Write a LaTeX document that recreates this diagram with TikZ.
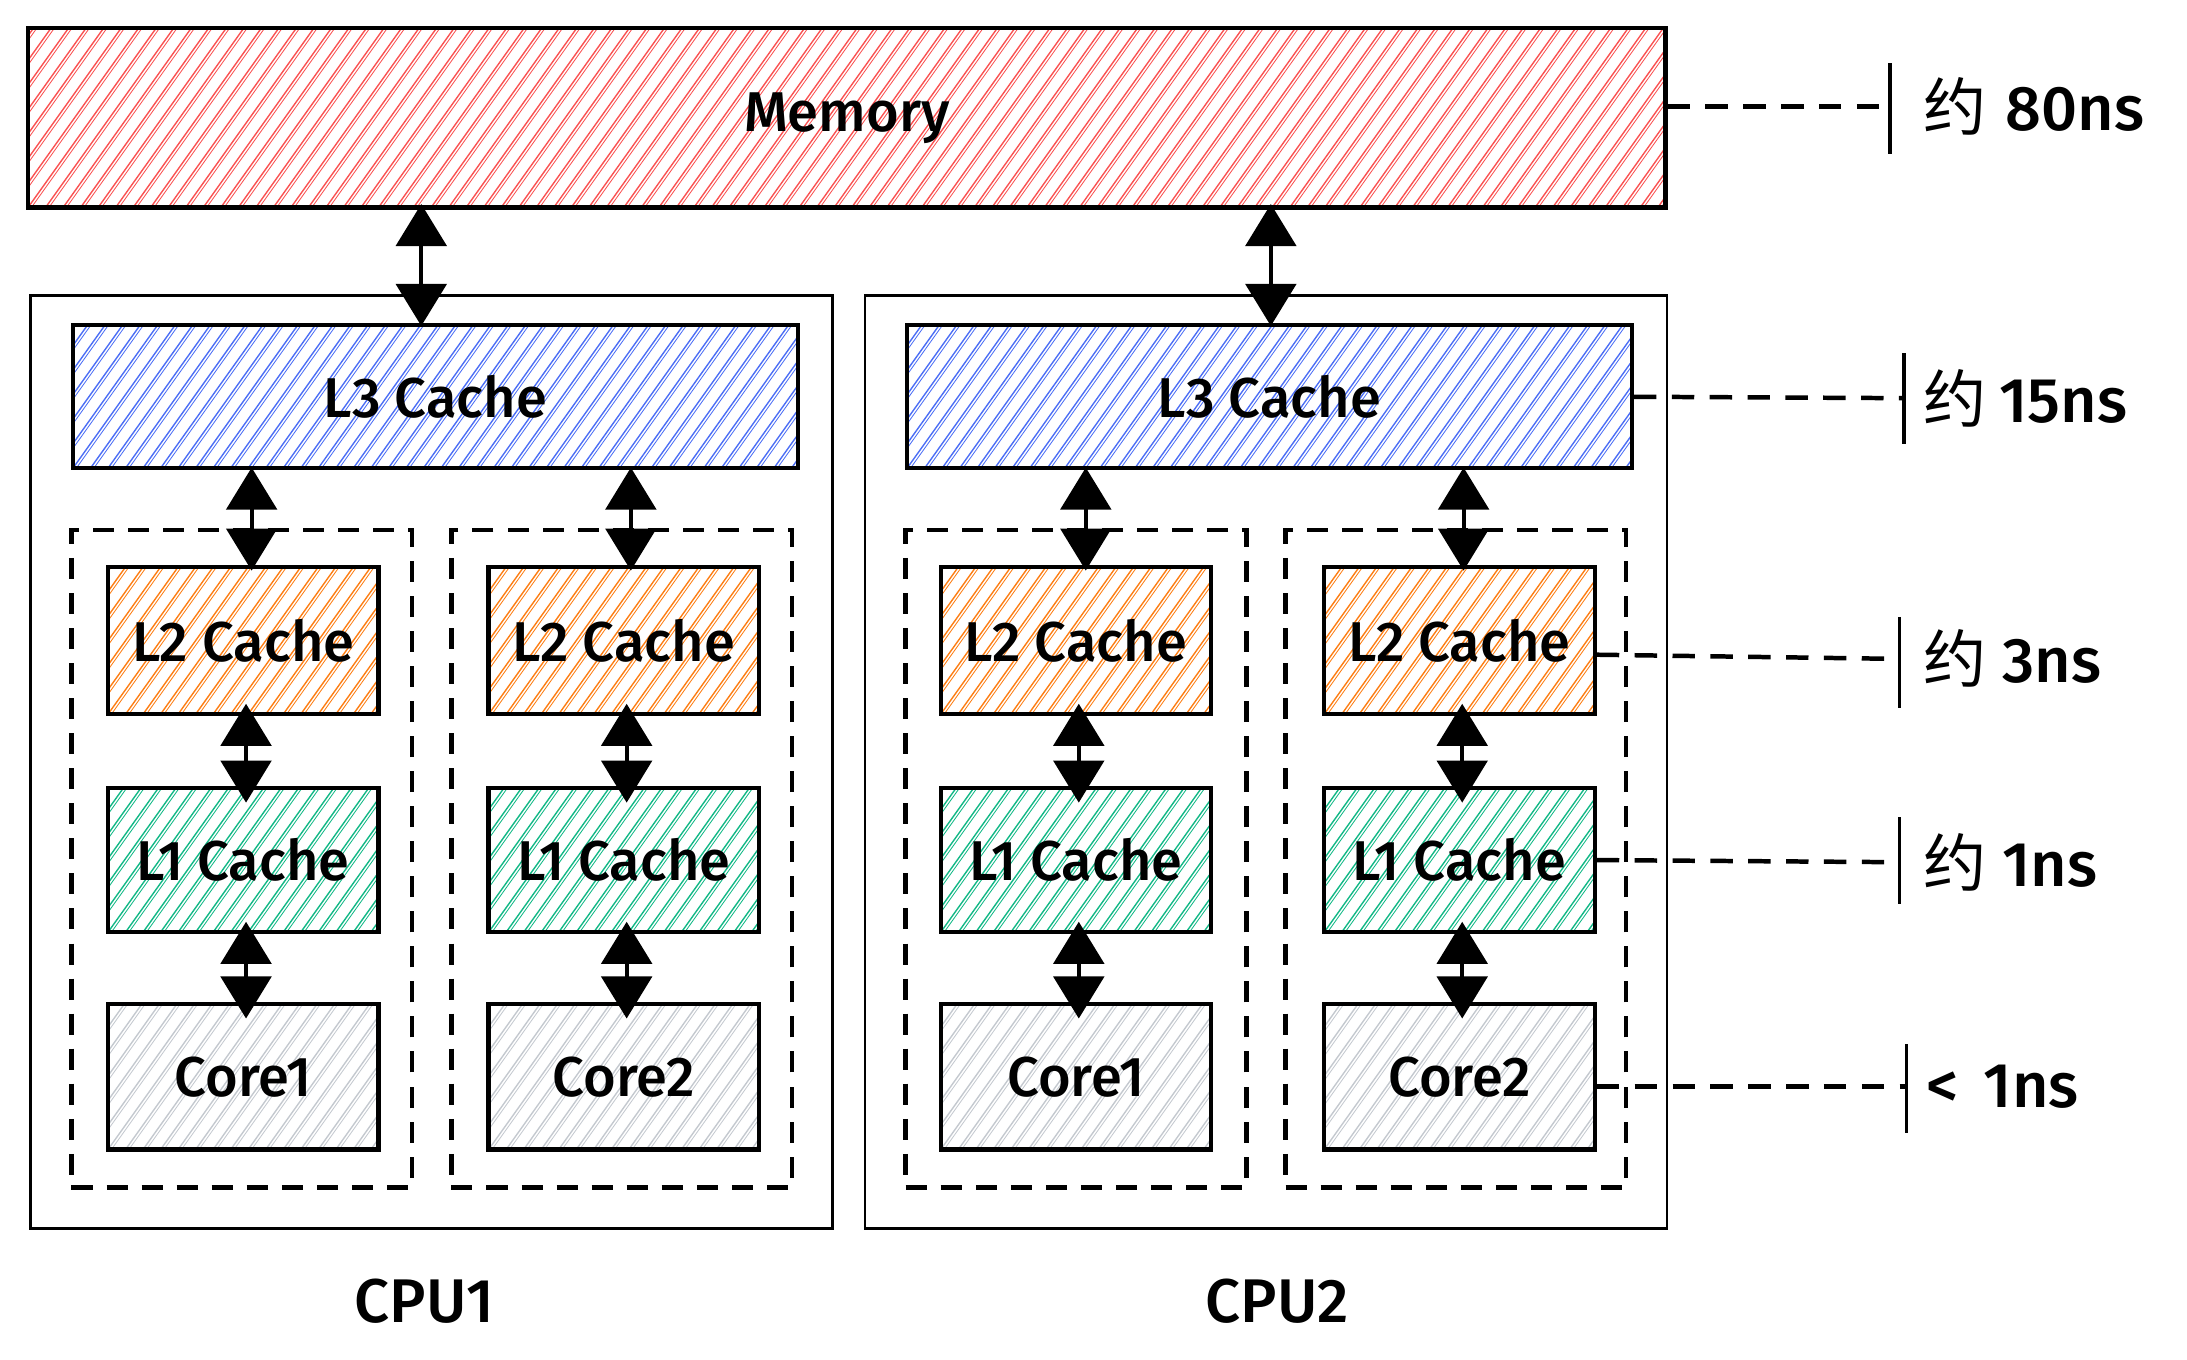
\documentclass[tikz,border=0pt]{standalone}
\usepackage{fontspec}
\setmainfont{Fira Sans Medium}
\newfontfamily\cjk{Noto Sans CJK SC}
\usetikzlibrary{arrows.meta,calc}
\definecolor{hred}{HTML}{FA5252}
\definecolor{hblue}{HTML}{4C6EF5}
\definecolor{horange}{HTML}{FD7E14}
\definecolor{hgreen}{HTML}{12B886}
\definecolor{hgray}{HTML}{C4C9CF}
\tikzset{
  hatch/.style={path picture={%
    \foreach \k in {-12,...,100}{%
      \draw[#1,line width=1pt] ([xshift=\k*12.5pt]path picture bounding box.south west) -- ++(100pt,140pt);
      \draw[#1,line width=0.6pt] ([xshift=\k*12.5pt+2.4pt]path picture bounding box.south west) -- ++(100pt,140pt);}}},
  boxlabel/.style={font=\fontsize{40}{44}\selectfont},
  cachebox/.style={draw=black, line width=3pt, rectangle, inner sep=0pt, boxlabel},
  cpubox/.style={draw=black, line width=2pt, rectangle, inner sep=0pt},
  groupbox/.style={draw=black, line width=3.1pt, dash pattern=on 15pt off 10pt, rectangle, inner sep=0pt},
  tipshape/.tip={Triangle[length=30pt,width=36pt]},
  biarrow/.style={line width=2.8pt, tipshape-tipshape},
  latline/.style={line width=3.2pt, dash pattern=on 16pt off 11pt},
  tickline/.style={line width=2.6pt},
  latlabel/.style={anchor=west, inner sep=0pt, font=\fontsize{45}{50}\selectfont},
}
\begin{document}
\begin{tikzpicture}[x=1pt,y=-1pt]
\useasboundingbox (0,0) rectangle (1560,970);

% CPU containers
\node[cpubox, minimum width=572pt, minimum height=665pt] (cpu1) at (308,543.5) {};
\node[cpubox, minimum width=572pt, minimum height=665pt] (cpu2) at (903,543.5) {};

% dashed core groups
\node[groupbox, minimum width=243pt, minimum height=469pt] (g11) at (172.5,612.5) {};
\node[groupbox, minimum width=243pt, minimum height=469pt] (g12) at (443.5,612.5) {};
\node[groupbox, minimum width=243pt, minimum height=469pt] (g21) at (767.5,612.5) {};
\node[groupbox, minimum width=243pt, minimum height=469pt] (g22) at (1038.5,612.5) {};

% memory
\node[cachebox, hatch=hred, minimum width=1168pt, minimum height=128pt] (mem) at (604,84) {Memory};

% L3
\node[cachebox, hatch=hblue, minimum width=517pt, minimum height=102pt] (l3a) at (310.5,283) {L3 Cache};
\node[cachebox, hatch=hblue, minimum width=517pt, minimum height=102pt] (l3b) at (905.5,283) {L3 Cache};

% L2
\foreach \n/\x in {l2a1/173.5, l2a2/445, l2b1/767.5, l2b2/1041}{
  \node[cachebox, hatch=horange, minimum width=193pt, minimum height=105pt] (\n) at (\x,457) {L2 Cache};
}
% L1
\foreach \n/\x in {l1a1/173.5, l1a2/445, l1b1/767.5, l1b2/1041}{
  \node[cachebox, hatch=hgreen, minimum width=193pt, minimum height=103pt] (\n) at (\x,613.5) {L1 Cache};
}
% Cores
\node[cachebox, hatch=hgray, minimum width=193pt, minimum height=104pt] (ca1) at (173.5,768) {Core1};
\node[cachebox, hatch=hgray, minimum width=193pt, minimum height=104pt] (ca2) at (445,768) {Core2};
\node[cachebox, hatch=hgray, minimum width=193pt, minimum height=104pt] (cb1) at (767.5,768) {Core1};
\node[cachebox, hatch=hgray, minimum width=193pt, minimum height=104pt] (cb2) at (1041,768) {Core2};

% arrows memory <-> L3
\draw[biarrow] ([xshift=-10pt,yshift=4pt]l3a.north |- mem.south) -- ([xshift=-10pt,yshift=-2pt]l3a.north);
\draw[biarrow] ([xshift=1pt,yshift=4pt]l3b.north |- mem.south) -- ([xshift=1pt,yshift=-2pt]l3b.north);

% arrows L3 <-> L2
\draw[biarrow] ([xshift=6pt,yshift=2pt]l2a1.north |- l3a.south) -- ([xshift=6pt,yshift=-4pt]l2a1.north);
\draw[biarrow] ([xshift=5pt,yshift=2pt]l2a2.north |- l3a.south) -- ([xshift=5pt,yshift=-4pt]l2a2.north);
\draw[biarrow] ([xshift=7pt,yshift=2pt]l2b1.north |- l3b.south) -- ([xshift=7pt,yshift=-4pt]l2b1.north);
\draw[biarrow] ([xshift=3pt,yshift=2pt]l2b2.north |- l3b.south) -- ([xshift=3pt,yshift=-4pt]l2b2.north);

% arrows L2 <-> L1 <-> core
\foreach \a/\b/\c in {l2a1/l1a1/ca1, l2a2/l1a2/ca2, l2b1/l1b1/cb1, l2b2/l1b2/cb2}{
  \draw[biarrow] ([xshift=2pt,yshift=9pt]\a.south) -- ([xshift=2pt,yshift=-12pt]\b.north);
  \draw[biarrow] ([xshift=2pt,yshift=9pt]\b.south) -- ([xshift=2pt,yshift=-12pt]\c.north);
}

% latency markers
\coordinate (t0) at (1348,76);
\draw[latline] ([yshift=8pt]mem.east) -- (t0);
\draw[tickline] (1348,45) -- (1348,110);
\node[latlabel] (lat0) at (1372,76) {{\cjk 约}\hspace{0.3em}80ns};

\coordinate (t1) at (1358,284);
\draw[latline] (l3b.east) -- (t1);
\draw[tickline] (1358,252) -- (1358,317);
\node[latlabel] (lat1) at (1372,284) {{\cjk 约}\hspace{0.2em}15ns};

\coordinate (t2) at (1355,470);
\draw[latline] ([yshift=-10pt]l2b2.east) -- (t2);
\draw[tickline] (1355,440) -- (1355,505);
\node[latlabel] (lat2) at (1372,470) {{\cjk 约}\hspace{0.25em}3ns};

\coordinate (t3) at (1355,615);
\draw[latline] (l1b2.east) -- (t3);
\draw[tickline] (1355,583) -- (1355,645);
\node[latlabel] (lat3) at (1372,615) {{\cjk 约}\hspace{0.25em}1ns};

\coordinate (t4) at (1360,775);
\draw[latline] ([yshift=-7pt]cb2.east) -- (t4);
\draw[tickline] (1360,745) -- (1360,808);
\node[latlabel] (lat4) at (1374,775) {<\hspace{0.4em}1ns};

% CPU labels
\node[boxlabel, font=\fontsize{44}{48}\selectfont] (cpu1lbl) at (303,928) {CPU1};
\node[boxlabel, font=\fontsize{44}{48}\selectfont] (cpu2lbl) at (911,928) {CPU2};
\end{tikzpicture}
\end{document}
